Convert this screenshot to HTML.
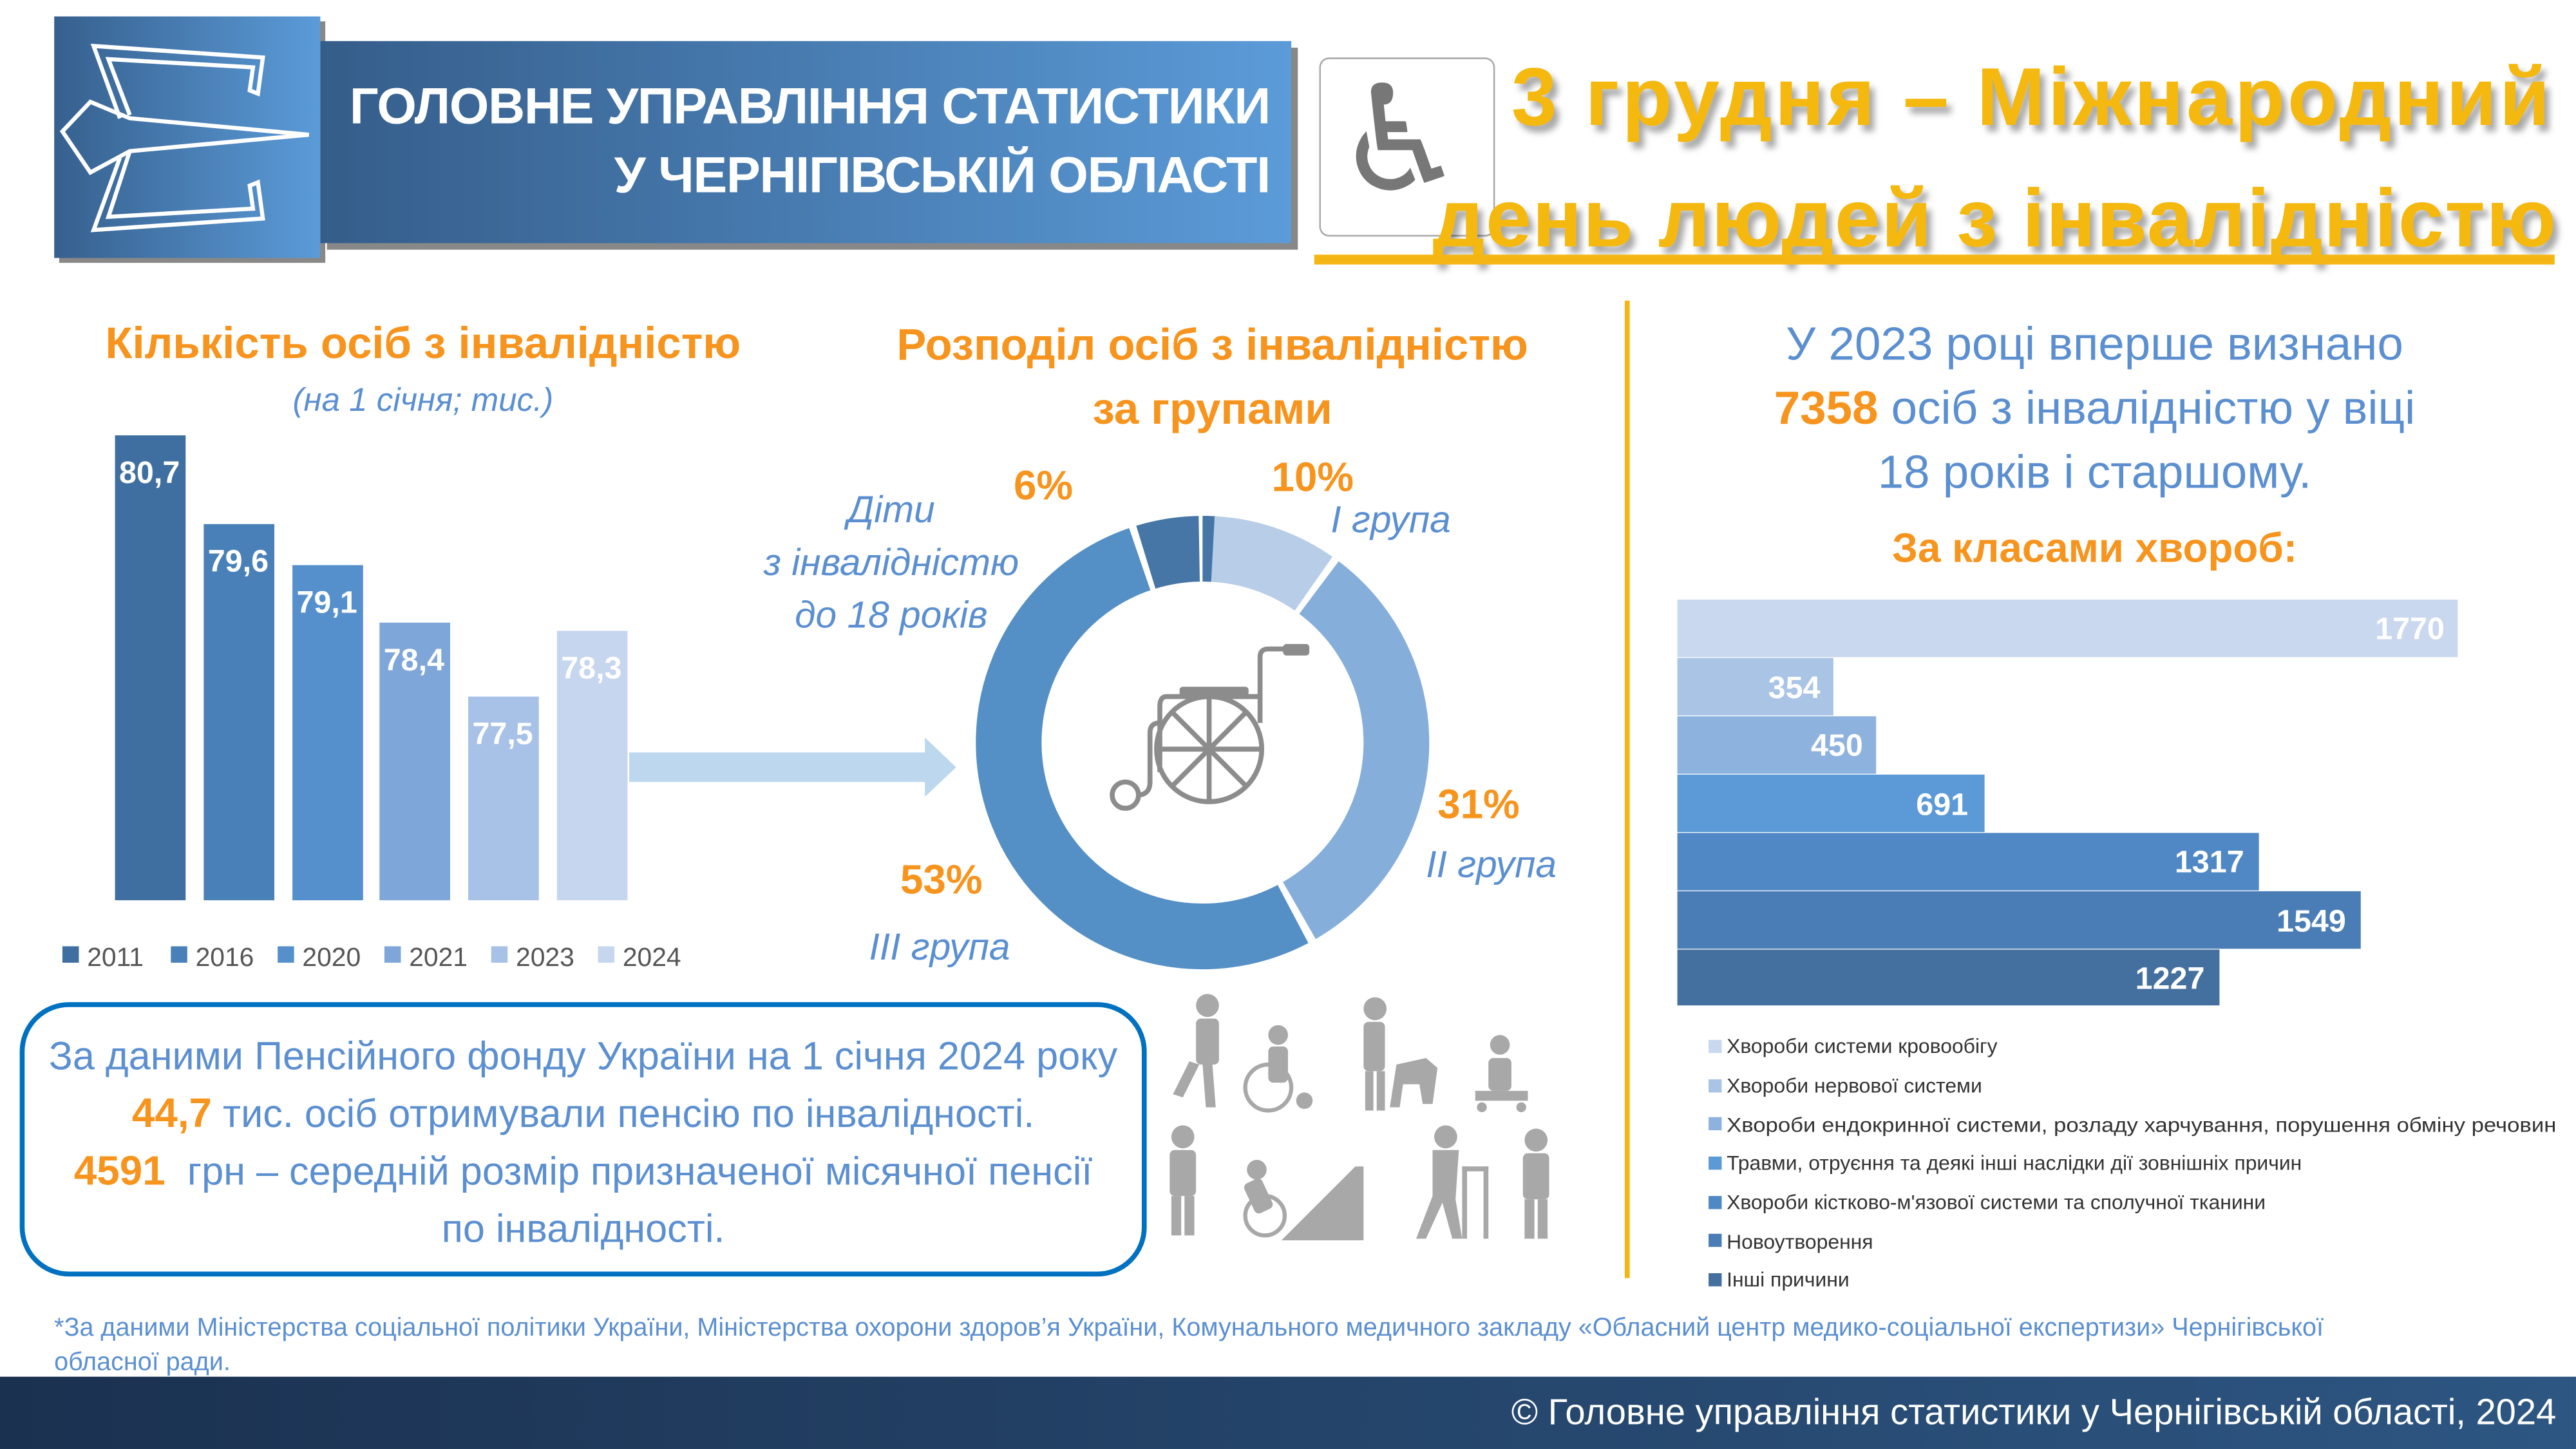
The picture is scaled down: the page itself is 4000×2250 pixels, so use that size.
<!DOCTYPE html>
<html><head><meta charset="utf-8"><style>
html,body{margin:0;padding:0;background:#fff;}
body{width:4000px;height:2250px;overflow:hidden;position:relative;}
#s{position:absolute;left:0;top:0;width:1568px;height:882px;transform:scale(2.5510);transform-origin:0 0;font-family:"Liberation Sans","DejaVu Sans",sans-serif;}
.t{position:absolute;white-space:nowrap;}
.c{text-align:center;}
.or{color:#f7941d;font-weight:bold;}
.bl{color:#5b8fd0;}
</style></head><body><div id="s">
<!-- header -->
<div style="position:absolute;left:36px;top:13px;width:162px;height:147px;background:#888;"></div>
<div style="position:absolute;left:33px;top:10px;width:162px;height:147px;background:linear-gradient(90deg,#36608e,#5b9bd8);"></div>
<svg style="position:absolute;left:33px;top:10px" width="162" height="147"><g fill="none" stroke="#fff" stroke-width="2.5" stroke-linejoin="miter"><path d="M40 62 L24 18 L127 25 L124 47 L119 45 L121 31 L33 26 L46 60"/><path d="M5 70 L22 52 L46 62 L155 72 L46 82 L22 95 Z"/><path d="M46 82 L33 122 L121 117 L119 103 L124 101 L127 123 L24 130 L40 86"/></g></svg>
<div style="position:absolute;left:199px;top:29px;width:591px;height:123px;background:#888;"></div>
<div style="position:absolute;left:195px;top:25px;width:591px;height:123px;background:linear-gradient(90deg,#355d8a,#5b9bd8);"></div>
<div class="t" style="left:195px;top:44px;width:578px;text-align:right;color:#fff;font-weight:bold;font-size:31px;line-height:42px;letter-spacing:-0.5px;">ГОЛОВНЕ УПРАВЛІННЯ СТАТИСТИКИ<br>У ЧЕРНІГІВСЬКІЙ ОБЛАСТІ</div>
<div style="position:absolute;left:803px;top:35px;width:105px;height:107px;border:1.5px solid #aaa;border-radius:6px;background:#fff;"></div>
<div class="t" style="left:812px;top:36px;font-size:90px;color:#777;line-height:100px;">♿</div>
<div class="t" style="left:920px;top:30px;font-size:50px;font-weight:bold;color:#f5b80f;text-shadow:3px 4px 4px rgba(0,0,0,0.35);letter-spacing:1.6px;">3 грудня – Міжнародний</div>
<div class="t" style="left:872px;top:104px;font-size:50px;font-weight:bold;color:#f5b80f;text-shadow:3px 4px 4px rgba(0,0,0,0.35);letter-spacing:0.6px;">день людей з інвалідністю</div>
<div style="position:absolute;left:800px;top:155px;width:755px;height:6px;background:#f5b614;"></div>

<!-- left bar chart -->
<div class="t c or" style="left:20px;width:475px;top:194px;font-size:27px;">Кількість осіб з інвалідністю</div>
<div class="t c bl" style="left:20px;width:475px;top:233px;font-size:20px;font-style:italic;">(на 1 січня; тис.)</div>
<svg style="position:absolute;left:0;top:0" width="600" height="600">
<rect x="70" y="265" width="43" height="283" fill="#3f6fa0"/>
<rect x="124" y="319" width="43" height="229" fill="#4a80b8"/>
<rect x="178" y="344" width="43" height="204" fill="#5590cc"/>
<rect x="231" y="379" width="43" height="169" fill="#7ea6d8"/>
<rect x="285" y="424" width="43" height="124" fill="#a7c2e6"/>
<rect x="339" y="384" width="43" height="164" fill="#c6d6ee"/>
<g font-family="Liberation Sans,sans-serif" font-weight="bold" font-size="19" fill="#fff" text-anchor="middle">
<text x="91" y="294">80,7</text><text x="145" y="348">79,6</text><text x="199" y="373">79,1</text><text x="252" y="408">78,4</text><text x="306" y="453">77,5</text><text x="360" y="413">78,3</text></g>
<polygon points="383,458 563,458 563,449 582,467 563,485 563,476 383,476" fill="#bdd7ee"/>
<g font-family="Liberation Sans,sans-serif" font-size="16" fill="#555">
<rect x="38" y="576" width="10" height="10" fill="#3f6fa0"/><text x="53" y="588">2011</text>
<rect x="104" y="576" width="10" height="10" fill="#4a80b8"/><text x="119" y="588">2016</text>
<rect x="169" y="576" width="10" height="10" fill="#5590cc"/><text x="184" y="588">2020</text>
<rect x="234" y="576" width="10" height="10" fill="#7ea6d8"/><text x="249" y="588">2021</text>
<rect x="299" y="576" width="10" height="10" fill="#a7c2e6"/><text x="314" y="588">2023</text>
<rect x="364" y="576" width="10" height="10" fill="#c6d6ee"/><text x="379" y="588">2024</text></g>
</svg>

<!-- donut -->
<div class="t c or" style="left:518px;width:440px;top:191px;font-size:27px;line-height:39px;">Розподіл осіб з інвалідністю<br>за групами</div>
<svg style="position:absolute;left:0;top:0" width="1000" height="620">
<g fill="none" stroke-width="40" transform="rotate(-90 732 452)">
<circle cx="732" cy="452" r="118" stroke="#b8cde8" stroke-dasharray="70 700" stroke-dashoffset="-2"/>
<circle cx="732" cy="452" r="118" stroke="#86aedb" stroke-dasharray="233 700" stroke-dashoffset="-76"/>
<circle cx="732" cy="452" r="118" stroke="#548fc6" stroke-dasharray="389 700" stroke-dashoffset="-313.4"/>
<circle cx="732" cy="452" r="118" stroke="#4676a6" stroke-dasharray="33 700" stroke-dashoffset="-706.3"/>
</g>
<g stroke="#8c8c8c" stroke-width="3" fill="none">
<circle cx="736" cy="456" r="32"/>
<line x1="736" y1="424" x2="736" y2="488"/><line x1="704" y1="456" x2="768" y2="456"/>
<line x1="713" y1="433" x2="759" y2="479"/><line x1="759" y1="433" x2="713" y2="479"/>
<path d="M767 440 L767 400 Q767 395 772 395 L785 395"/>
<path d="M767 424 L710 424 Q706 424 706 430 L706 470"/>
<path d="M706 440 Q700 440 700 446 L700 476 Q700 484 692 484"/>
<circle cx="685" cy="484" r="8"/>
</g>
<rect x="781" y="392" width="16" height="7" rx="2" fill="#8c8c8c"/>
<rect x="718" y="418" width="42" height="6" rx="2" fill="#8c8c8c"/>
</svg>
<div class="t or" style="left:617px;top:282px;font-size:25px;">6%</div>
<div class="t or" style="left:774px;top:277px;font-size:25px;">10%</div>
<div class="t or" style="left:875px;top:476px;font-size:25px;">31%</div>
<div class="t or" style="left:548px;top:522px;font-size:25px;">53%</div>
<div class="t bl" style="left:810px;top:303px;font-size:23px;font-style:italic;">І група</div>
<div class="t bl" style="left:868px;top:513px;font-size:23px;font-style:italic;">ІІ група</div>
<div class="t bl" style="left:529px;top:563px;font-size:23px;font-style:italic;">ІІІ група</div>
<div class="t c bl" style="left:440px;width:205px;top:294px;font-size:23px;font-style:italic;line-height:32px;">Діти<br>з інвалідністю<br>до 18 років</div>

<!-- divider -->
<div style="position:absolute;left:989px;top:183px;width:3px;height:595px;background:#f5b614;"></div>

<!-- right -->
<div class="t c bl" style="left:1010px;width:530px;top:191px;font-size:28.5px;line-height:39px;">У 2023 році вперше визнано<br><span class="or">7358</span> осіб з інвалідністю у віці<br>18 років і старшому.</div>
<div class="t c or" style="left:1010px;width:530px;top:320px;font-size:25px;">За класами хвороб:</div>
<svg style="position:absolute;left:0;top:0" width="1568" height="800">
<rect x="1021" y="365" width="475" height="35" fill="#c9d8ee"/>
<rect x="1021" y="400.5" width="95" height="35" fill="#aac4e6"/>
<rect x="1021" y="436" width="121" height="35" fill="#8eb2de"/>
<rect x="1021" y="471.5" width="187" height="35" fill="#5b9ad6"/>
<rect x="1021" y="507" width="354" height="35" fill="#4f88c4"/>
<rect x="1021" y="542.5" width="416" height="35" fill="#4a7db5"/>
<rect x="1021" y="578" width="330" height="34" fill="#44709f"/>
<g font-family="Liberation Sans,sans-serif" font-weight="bold" font-size="19" fill="#fff" text-anchor="end">
<text x="1488" y="389">1770</text><text x="1108" y="425">354</text><text x="1134" y="460">450</text><text x="1198" y="496">691</text><text x="1366" y="531">1317</text><text x="1428" y="567">1549</text><text x="1342" y="602">1227</text></g>
<g font-family="Liberation Sans,sans-serif" font-size="12.5" fill="#333">
<rect x="1040" y="633" width="8" height="8" fill="#c9d8ee"/><text x="1051" y="641">Хвороби системи кровообігу</text>
<rect x="1040" y="657" width="8" height="8" fill="#aac4e6"/><text x="1051" y="665">Хвороби нервової системи</text>
<rect x="1040" y="680" width="8" height="8" fill="#8eb2de"/><text x="1051" y="689" textLength="505" lengthAdjust="spacingAndGlyphs">Хвороби ендокринної системи, розладу харчування, порушення обміну речовин</text>
<rect x="1040" y="704" width="8" height="8" fill="#5b9ad6"/><text x="1051" y="712">Травми, отруєння та деякі інші наслідки дії зовнішніх причин</text>
<rect x="1040" y="728" width="8" height="8" fill="#4f88c4"/><text x="1051" y="736">Хвороби кістково-м'язової системи та сполучної тканини</text>
<rect x="1040" y="751" width="8" height="8" fill="#4a7db5"/><text x="1051" y="760">Новоутворення</text>
<rect x="1040" y="775" width="8" height="8" fill="#44709f"/><text x="1051" y="783">Інші причини</text></g>
</svg>

<!-- pension box -->
<div style="position:absolute;left:12px;top:610px;width:680px;height:161px;border:3px solid #0070c0;border-radius:30px;"></div>
<div class="t c bl" style="left:15px;width:680px;top:626px;font-size:24px;line-height:35px;">За даними Пенсійного фонду України на 1 січня 2024 року<br><span class="or" style="font-size:25px">44,7</span> тис. осіб отримували пенсію по інвалідності.<br><span class="or" style="font-size:25px">4591</span>&nbsp; грн – середній розмір призначеної місячної пенсії<br>по інвалідності.</div>

<!-- pictograms -->
<svg style="position:absolute;left:700px;top:600px" width="260" height="160">
<g fill="#a8a8a8">
<circle cx="35" cy="12" r="7"/><rect x="28" y="20" width="14" height="28" rx="3"/><path d="M30 48 L20 68 L14 66 L24 46Z M38 48 L40 74 L34 74 L32 48Z"/>
<circle cx="78" cy="30" r="6"/><rect x="72" y="37" width="12" height="22" rx="3"/><circle cx="72" cy="62" r="14" fill="none" stroke="#a8a8a8" stroke-width="2.5"/><circle cx="94" cy="70" r="5"/>
<circle cx="137" cy="14" r="7"/><rect x="130" y="22" width="13" height="30" rx="3"/><rect x="131" y="52" width="5" height="24"/><rect x="138" y="52" width="5" height="24"/><path d="M150 48 L168 44 L175 50 L172 72 L166 72 L164 60 L154 60 L152 74 L146 74Z"/>
<circle cx="213" cy="36" r="6"/><rect x="206" y="44" width="14" height="20" rx="3"/><rect x="198" y="64" width="32" height="6"/><circle cx="202" cy="74" r="3"/><circle cx="226" cy="74" r="3"/>
<circle cx="20" cy="92" r="7"/><rect x="12" y="100" width="16" height="28" rx="3"/><rect x="13" y="128" width="6" height="24"/><rect x="21" y="128" width="6" height="24"/>
<circle cx="65" cy="112" r="6"/><rect x="60" y="118" width="12" height="20" rx="3" transform="rotate(-25 66 128)"/><circle cx="70" cy="140" r="12" fill="none" stroke="#a8a8a8" stroke-width="2.5"/>
<path d="M80 155 L125 110 L130 110 L130 155Z"/>
<circle cx="180" cy="92" r="7"/><path d="M172 100 L188 100 L186 130 L190 154 L184 154 L178 132 L168 154 L162 154 L172 128Z"/><rect x="190" y="110" width="3" height="44"/><rect x="203" y="110" width="3" height="44"/><rect x="190" y="110" width="16" height="3"/>
<circle cx="235" cy="94" r="7"/><rect x="227" y="102" width="16" height="28" rx="3"/><rect x="228" y="130" width="6" height="24"/><rect x="236" y="130" width="6" height="24"/>
</g></svg>

<!-- footnote & footer -->
<div class="t bl" style="left:33px;top:798px;font-size:15.5px;line-height:21px;">*За даними Міністерства соціальної політики України, Міністерства охорони здоров’я України, Комунального медичного закладу «Обласний центр медико-соціальної експертизи» Чернігівської<br>обласної ради.</div>
<div style="position:absolute;left:0;top:838px;width:1568px;height:44px;background:linear-gradient(90deg,#1b3150,#2d5682);"></div>
<div class="t" style="right:12px;top:847px;font-size:22px;color:#fff;">© Головне управління статистики у Чернігівській області, 2024</div>
</div></body></html>
